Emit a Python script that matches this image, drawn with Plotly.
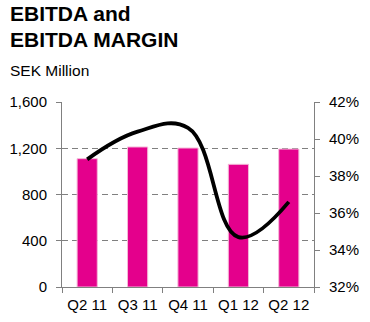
import plotly.graph_objects as go

categories = ["Q2 11", "Q3 11", "Q4 11", "Q1 12", "Q2 12"]
ebitda = [1110, 1211, 1202, 1061, 1193]
margin = [38.9, 40.4, 40.6, 34.7, 36.6]

W, H = 370, 322
L, R, T, B = 62, 56, 102, 35
pw = W - L - R
ph = H - T - B

def px_x(x):
    return (x - L) / pw

def px_y(y):
    return (H - B - y) / ph

FONT = "Liberation Sans, Arial, sans-serif"
GRAY = "#808080"

fig = go.Figure()
fig.add_trace(go.Bar(
    x=categories, y=ebitda, width=0.4,
    marker=dict(color="#E4008C", line=dict(color="#F4B8D8", width=1)),
    yaxis="y", showlegend=False,
))
fig.add_trace(go.Scatter(
    x=categories, y=margin, mode="lines",
    line=dict(color="black", width=3.8, shape="spline", smoothing=1.15),
    yaxis="y2", showlegend=False,
))

fig.update_layout(
    width=W, height=H,
    margin=dict(l=L, r=R, t=T, b=B, autoexpand=False),
    plot_bgcolor="white", paper_bgcolor="white",
    font=dict(family=FONT, size=15, color="#000000"),
    xaxis=dict(
        showline=True, linecolor=GRAY, linewidth=1,
        ticks="outside", tickson="boundaries", ticklen=5, tickcolor=GRAY,
        showgrid=False, tickfont=dict(size=15), ticklabelstandoff=4,
        tickangle=0, automargin=False,
    ),
    yaxis=dict(
        range=[0, 1600], dtick=400, tickformat=",",
        showline=True, linecolor=GRAY, linewidth=1,
        ticks="outside", ticklen=5, tickcolor=GRAY,
        showgrid=True, gridcolor=GRAY, griddash="6px,4px", gridwidth=1,
        zeroline=False, tickfont=dict(size=15), ticklabelstandoff=6,
        automargin=False,
    ),
    yaxis2=dict(
        range=[32, 42], dtick=2, ticksuffix="%",
        overlaying="y", side="right",
        showline=True, linecolor=GRAY, linewidth=1,
        ticks="outside", ticklen=5, tickcolor=GRAY,
        showgrid=False, zeroline=False, tickfont=dict(size=15), ticklabelstandoff=6,
        automargin=False,
    ),
    annotations=[
        dict(text="<b>EBITDA and</b>", xref="paper", yref="paper",
             x=px_x(8), y=px_y(27), xanchor="left", yanchor="bottom",
             showarrow=False, font=dict(size=21, family=FONT)),
        dict(text="<b>EBITDA MARGIN</b>", xref="paper", yref="paper",
             x=px_x(8), y=px_y(53), xanchor="left", yanchor="bottom",
             showarrow=False, font=dict(size=21, family=FONT)),
        dict(text="SEK Million", xref="paper", yref="paper",
             x=px_x(8), y=px_y(81), xanchor="left", yanchor="bottom",
             showarrow=False, font=dict(size=15.5, family=FONT)),
    ],
)

fig.write_html("out.html")
